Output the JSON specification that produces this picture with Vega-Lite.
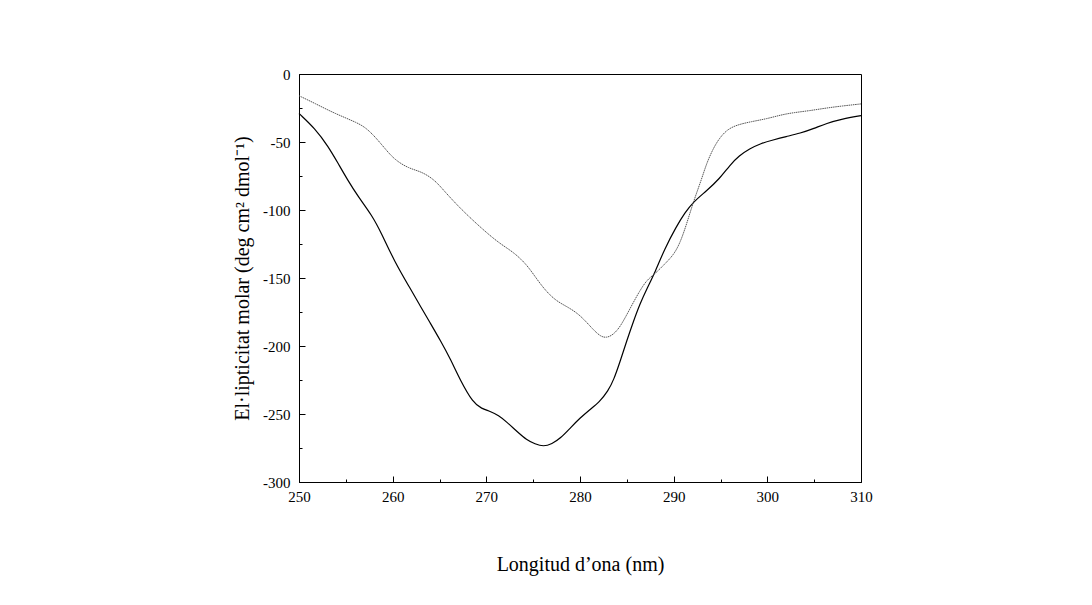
{
  "$schema": "https://vega.github.io/schema/vega-lite/v6.json",
  "autosize": {"type": "none"},
  "padding": {"left": 299, "top": 74, "right": 231, "bottom": 123},
  "width": 562,
  "height": 408,
  "background": "white",
  "config": {
    "font": "Liberation Serif",
    "view": {"stroke": "black", "strokeWidth": 1},
    "axis": {"domainColor": "black", "tickColor": "black", "labelColor": "black", "titleColor": "black", "grid": false, "labelFont": "Liberation Serif", "titleFont": "Liberation Serif", "titleFontWeight": "normal", "labelFontSize": 15, "titleFontSize": 20, "domainWidth": 1, "tickWidth": 1, "labelFlush": false, "labelOverlap": false}
  },
  "datasets": {
    "cd": [
      {"lambda": 250, "theta": -29, "sample": "A"},
      {"lambda": 251.7, "theta": -40, "sample": "A"},
      {"lambda": 253.1, "theta": -53, "sample": "A"},
      {"lambda": 254.2, "theta": -66, "sample": "A"},
      {"lambda": 255.2, "theta": -78, "sample": "A"},
      {"lambda": 256.3, "theta": -90, "sample": "A"},
      {"lambda": 257.8, "theta": -104, "sample": "A"},
      {"lambda": 258.8, "theta": -117, "sample": "A"},
      {"lambda": 260.2, "theta": -138, "sample": "A"},
      {"lambda": 261.9, "theta": -158, "sample": "A"},
      {"lambda": 262.9, "theta": -170, "sample": "A"},
      {"lambda": 264, "theta": -183, "sample": "A"},
      {"lambda": 265.1, "theta": -196, "sample": "A"},
      {"lambda": 266.2, "theta": -210, "sample": "A"},
      {"lambda": 267.2, "theta": -225, "sample": "A"},
      {"lambda": 268.6, "theta": -242, "sample": "A"},
      {"lambda": 269.5, "theta": -246, "sample": "A"},
      {"lambda": 270.4, "theta": -248, "sample": "A"},
      {"lambda": 271.3, "theta": -251, "sample": "A"},
      {"lambda": 272.2, "theta": -256, "sample": "A"},
      {"lambda": 273.3, "theta": -263, "sample": "A"},
      {"lambda": 274.3, "theta": -269, "sample": "A"},
      {"lambda": 275.2, "theta": -272, "sample": "A"},
      {"lambda": 276.1, "theta": -274, "sample": "A"},
      {"lambda": 277, "theta": -272, "sample": "A"},
      {"lambda": 277.9, "theta": -268, "sample": "A"},
      {"lambda": 279, "theta": -260, "sample": "A"},
      {"lambda": 280, "theta": -253, "sample": "A"},
      {"lambda": 281, "theta": -247, "sample": "A"},
      {"lambda": 282.1, "theta": -241, "sample": "A"},
      {"lambda": 283, "theta": -233, "sample": "A"},
      {"lambda": 283.6, "theta": -225, "sample": "A"},
      {"lambda": 284.3, "theta": -211, "sample": "A"},
      {"lambda": 285, "theta": -196, "sample": "A"},
      {"lambda": 285.7, "theta": -182, "sample": "A"},
      {"lambda": 286.4, "theta": -169, "sample": "A"},
      {"lambda": 287.2, "theta": -157, "sample": "A"},
      {"lambda": 288, "theta": -146, "sample": "A"},
      {"lambda": 289, "theta": -129, "sample": "A"},
      {"lambda": 290.3, "theta": -112, "sample": "A"},
      {"lambda": 291.2, "theta": -102, "sample": "A"},
      {"lambda": 292.1, "theta": -94, "sample": "A"},
      {"lambda": 293.5, "theta": -86, "sample": "A"},
      {"lambda": 294.9, "theta": -77, "sample": "A"},
      {"lambda": 296, "theta": -67, "sample": "A"},
      {"lambda": 297, "theta": -60, "sample": "A"},
      {"lambda": 298.1, "theta": -55, "sample": "A"},
      {"lambda": 299.3, "theta": -51, "sample": "A"},
      {"lambda": 300.6, "theta": -48.5, "sample": "A"},
      {"lambda": 302, "theta": -46, "sample": "A"},
      {"lambda": 303.5, "theta": -43.6, "sample": "A"},
      {"lambda": 305, "theta": -40, "sample": "A"},
      {"lambda": 306.3, "theta": -36.3, "sample": "A"},
      {"lambda": 308, "theta": -33, "sample": "A"},
      {"lambda": 310, "theta": -30.6, "sample": "A"},
      {"lambda": 250, "theta": -16, "sample": "B"},
      {"lambda": 251.7, "theta": -21.6, "sample": "B"},
      {"lambda": 253.8, "theta": -29, "sample": "B"},
      {"lambda": 256.3, "theta": -36, "sample": "B"},
      {"lambda": 257.2, "theta": -40, "sample": "B"},
      {"lambda": 258.1, "theta": -46, "sample": "B"},
      {"lambda": 259.2, "theta": -55, "sample": "B"},
      {"lambda": 260.2, "theta": -63, "sample": "B"},
      {"lambda": 261.7, "theta": -69.4, "sample": "B"},
      {"lambda": 263.1, "theta": -71.8, "sample": "B"},
      {"lambda": 264.5, "theta": -78, "sample": "B"},
      {"lambda": 265.5, "theta": -86, "sample": "B"},
      {"lambda": 266.7, "theta": -95, "sample": "B"},
      {"lambda": 268, "theta": -104, "sample": "B"},
      {"lambda": 269.9, "theta": -116, "sample": "B"},
      {"lambda": 271.5, "theta": -125, "sample": "B"},
      {"lambda": 272.9, "theta": -131, "sample": "B"},
      {"lambda": 274.3, "theta": -140, "sample": "B"},
      {"lambda": 275.3, "theta": -150, "sample": "B"},
      {"lambda": 276.4, "theta": -160, "sample": "B"},
      {"lambda": 277.5, "theta": -167, "sample": "B"},
      {"lambda": 278.6, "theta": -171, "sample": "B"},
      {"lambda": 280, "theta": -177, "sample": "B"},
      {"lambda": 281.4, "theta": -188, "sample": "B"},
      {"lambda": 282.2, "theta": -193, "sample": "B"},
      {"lambda": 282.8, "theta": -194, "sample": "B"},
      {"lambda": 283.5, "theta": -192, "sample": "B"},
      {"lambda": 284.3, "theta": -186, "sample": "B"},
      {"lambda": 285.3, "theta": -173, "sample": "B"},
      {"lambda": 286.4, "theta": -159, "sample": "B"},
      {"lambda": 287.2, "theta": -151, "sample": "B"},
      {"lambda": 288, "theta": -147, "sample": "B"},
      {"lambda": 289, "theta": -140, "sample": "B"},
      {"lambda": 290, "theta": -133, "sample": "B"},
      {"lambda": 290.7, "theta": -124, "sample": "B"},
      {"lambda": 291.4, "theta": -110, "sample": "B"},
      {"lambda": 292.1, "theta": -94, "sample": "B"},
      {"lambda": 293, "theta": -77, "sample": "B"},
      {"lambda": 293.5, "theta": -66, "sample": "B"},
      {"lambda": 294.2, "theta": -55, "sample": "B"},
      {"lambda": 294.9, "theta": -47, "sample": "B"},
      {"lambda": 295.7, "theta": -41, "sample": "B"},
      {"lambda": 296.7, "theta": -37.5, "sample": "B"},
      {"lambda": 298.3, "theta": -35, "sample": "B"},
      {"lambda": 299.9, "theta": -33, "sample": "B"},
      {"lambda": 301.5, "theta": -30, "sample": "B"},
      {"lambda": 302.8, "theta": -28.4, "sample": "B"},
      {"lambda": 304.5, "theta": -27, "sample": "B"},
      {"lambda": 306.3, "theta": -25, "sample": "B"},
      {"lambda": 308, "theta": -23.5, "sample": "B"},
      {"lambda": 310, "theta": -22, "sample": "B"}
    ]
  },
  "layer": [
    {
      "data": {"name": "cd"},
      "transform": [{"filter": "datum.sample === 'A'"}],
      "mark": {"type": "line", "color": "black", "strokeWidth": 1.2, "interpolate": "basis"},
      "encoding": {
        "x": {"field": "lambda", "type": "quantitative", "scale": {"domain": [250, 310], "nice": false, "zero": false},
              "axis": {"title": "Longitud d\u2019ona (nm)", "values": [250, 260, 270, 280, 290, 300, 310], "tickSize": -6, "labelPadding": 13, "titlePadding": 50, "orient": "bottom", "labelFlush": false, "labelExpr": "'' + datum.value"}},
        "y": {"field": "theta", "type": "quantitative", "scale": {"domain": [-300, 0], "nice": false, "zero": false},
              "axis": {"title": "El\u00b7lipticitat molar (deg cm\u00b2 dmol\u207b\u00b9)", "values": [0, -50, -100, -150, -200, -250, -300], "tickSize": -6, "labelPadding": 15, "titlePadding": 10, "orient": "left", "labelFlush": false, "labelExpr": "'' + datum.value"}}
      }
    },
    {
      "data": {"name": "cd"},
      "transform": [{"filter": "datum.sample === 'B'"}],
      "mark": {"type": "line", "color": "#555555", "strokeWidth": 1, "strokeDash": [1.5, 0.7], "interpolate": "basis"},
      "encoding": {
        "x": {"field": "lambda", "type": "quantitative", "scale": {"domain": [250, 310], "nice": false, "zero": false},
              "axis": {"title": null, "values": [255, 265, 275, 285, 295, 305], "labels": false, "domain": false, "tickSize": -3, "orient": "bottom"}},
        "y": {"field": "theta", "type": "quantitative", "scale": {"domain": [-300, 0], "nice": false, "zero": false},
              "axis": {"title": null, "values": [-25, -75, -125, -175, -225, -275], "labels": false, "domain": false, "tickSize": -3, "orient": "left"}}
      }
    }
  ],
  "resolve": {"axis": {"x": "independent", "y": "independent"}}
}
